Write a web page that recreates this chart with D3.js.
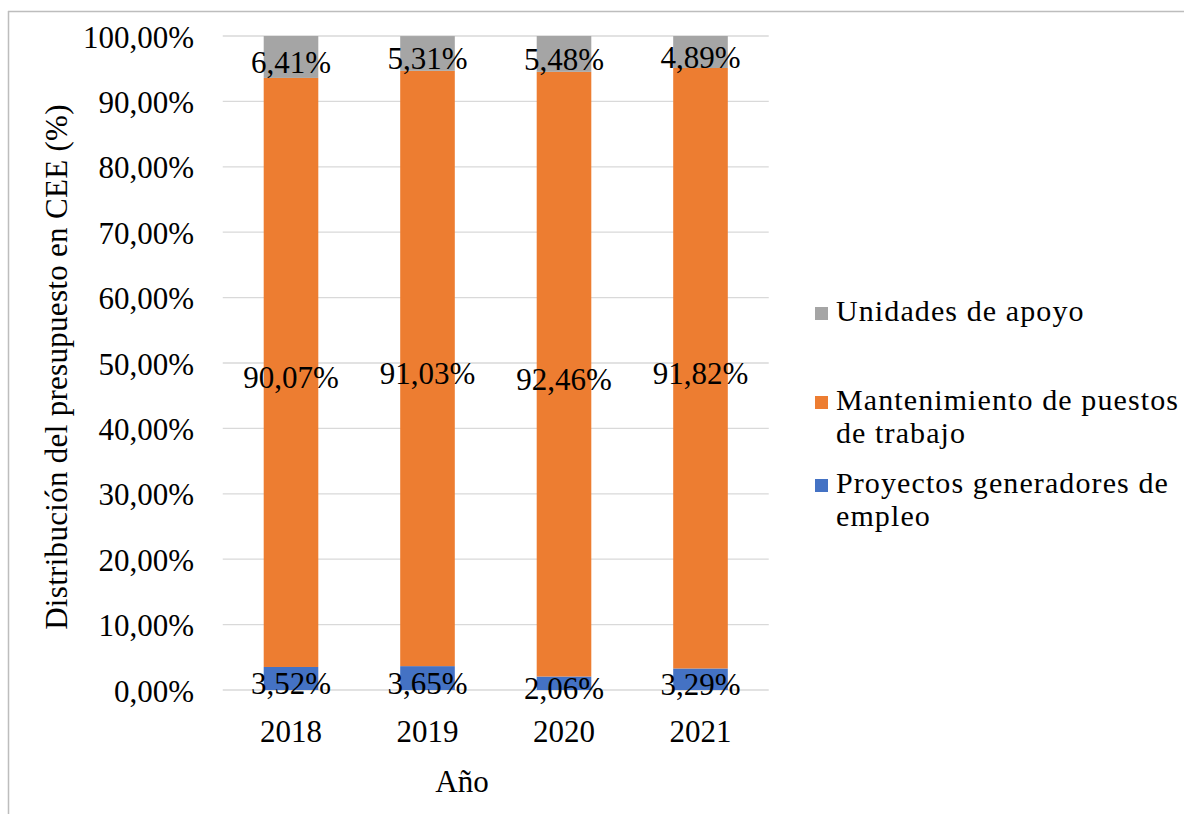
<!DOCTYPE html>
<html>
<head>
<meta charset="utf-8">
<script src="https://cdn.jsdelivr.net/npm/d3@7"></script>
<style>
  html, body { margin: 0; padding: 0; background: #ffffff; }
  svg { display: block; }
  text { font-family: "Liberation Serif", "Times New Roman", serif; fill: #000; }
</style>
</head>
<body>
<svg id="chart" width="1184" height="814"></svg>
<script>
// ---- data ----
const years = ["2018", "2019", "2020", "2021"];
const proyectos = [3.52, 3.65, 2.06, 3.29];
const mantenimiento = [90.07, 91.03, 92.46, 91.82];
const unidades = [6.41, 5.31, 5.48, 4.89];
const seriesNames = ["Proyectos generadores de empleo", "Mantenimiento de puestos de trabajo", "Unidades de apoyo"];
const seriesKeys = ["proyectos", "mantenimiento", "unidades"];
const seriesColors = ["#4472C4", "#ED7D31", "#A5A5A5"];
const yTicks = [0, 10, 20, 30, 40, 50, 60, 70, 80, 90, 100];
const xTitle = "Año";
const yTitle = "Distribución del presupuesto en CEE (%)";
const legendLines = [
  ["Unidades de apoyo"],
  ["Mantenimiento de puestos", "de trabajo"],
  ["Proyectos generadores de", "empleo"]
];
const legendColors = ["#A5A5A5", "#ED7D31", "#4472C4"];

// ---- build table ----
const table = years.map((y, i) => ({
  year: y, proyectos: proyectos[i], mantenimiento: mantenimiento[i], unidades: unidades[i]
}));

const svg = d3.select("#chart");
const fmt = v => d3.format(".2f")(v).replace(".", ",") + "%";
const FONT = "'Liberation Serif', 'Times New Roman', serif";

// frame lines (top and left, as in the reference crop)
svg.append("line").attr("x1", 8).attr("x2", 1184).attr("y1", 11.5).attr("y2", 11.5)
  .attr("stroke", "#bdbdbd").attr("stroke-width", 1.5);
svg.append("line").attr("x1", 8.5).attr("x2", 8.5).attr("y1", 11).attr("y2", 814)
  .attr("stroke", "#bdbdbd").attr("stroke-width", 1.5);

const x = d3.scaleBand().domain(years).range([222.75, 768.75]).paddingInner(0.6).paddingOuter(0.3);
const y = d3.scaleLinear().domain([0, 100]).range([690, 36]);

// gridlines
svg.append("g").selectAll("line").data(yTicks).join("line")
  .attr("x1", 222.75).attr("x2", 768.75)
  .attr("y1", d => y(d)).attr("y2", d => y(d))
  .attr("stroke", "#d9d9d9").attr("stroke-width", 1.3);

// y axis labels
const yAxis = d3.axisLeft(y).tickValues(yTicks).tickSize(0).tickPadding(0)
  .tickFormat(d => fmt(d));
const gy = svg.append("g").attr("transform", "translate(194,0)").call(yAxis)
  .attr("font-family", FONT).attr("font-size", 31);
gy.select(".domain").remove();
gy.selectAll("text").attr("font-size", 31).style("font-family", FONT)
  .attr("fill", "#000").attr("dy", "0.36em");

// x axis labels
const xAxis = d3.axisBottom(x).tickSize(0).tickPadding(0);
const gx = svg.append("g").attr("transform", "translate(0,742)").call(xAxis)
  .attr("font-family", FONT).attr("font-size", 31);
gx.select(".domain").remove();
gx.selectAll("text").attr("font-size", 31).style("font-family", FONT)
  .attr("fill", "#000").attr("dy", 0);

// stacked bars
const stack = d3.stack().keys(seriesKeys);
const stacked = stack(table);
stacked.forEach((layer, li) => {
  svg.append("g").selectAll("rect").data(layer).join("rect")
    .attr("x", d => x(d.data.year))
    .attr("width", x.bandwidth())
    .attr("y", d => y(d[1]))
    .attr("height", d => y(d[0]) - y(d[1]))
    .attr("fill", seriesColors[li]);
});
// labels
stacked.forEach((layer, li) => {
  svg.append("g").selectAll("text").data(layer).join("text")
    .attr("x", d => x(d.data.year) + x.bandwidth() / 2)
    .attr("y", d => (y(d[0]) + y(d[1])) / 2 + 16)
    .attr("text-anchor", "middle")
    .attr("font-size", 31)
    .text(d => fmt(d.data[seriesKeys[li]]));
});

// axis titles
svg.append("text").attr("x", 462).attr("y", 792).attr("text-anchor", "middle")
  .attr("font-size", 31).text(xTitle);
svg.append("text").attr("transform", "translate(67,367) rotate(-90)")
  .attr("text-anchor", "middle").attr("font-size", 31).attr("letter-spacing", 0.3).text(yTitle);

// legend
const legendTop = [321, 410, 493];
const lg = svg.append("g");
legendLines.forEach((lines, i) => {
  lg.append("rect").attr("x", 815).attr("y", legendTop[i] - 14).attr("width", 13).attr("height", 13)
    .attr("fill", legendColors[i]);
  lines.forEach((t, j) => {
    lg.append("text").attr("x", 836).attr("y", legendTop[i] + j * 33)
      .attr("font-size", 30).attr("letter-spacing", 1.1).text(t);
  });
});
</script>
</body>
</html>
